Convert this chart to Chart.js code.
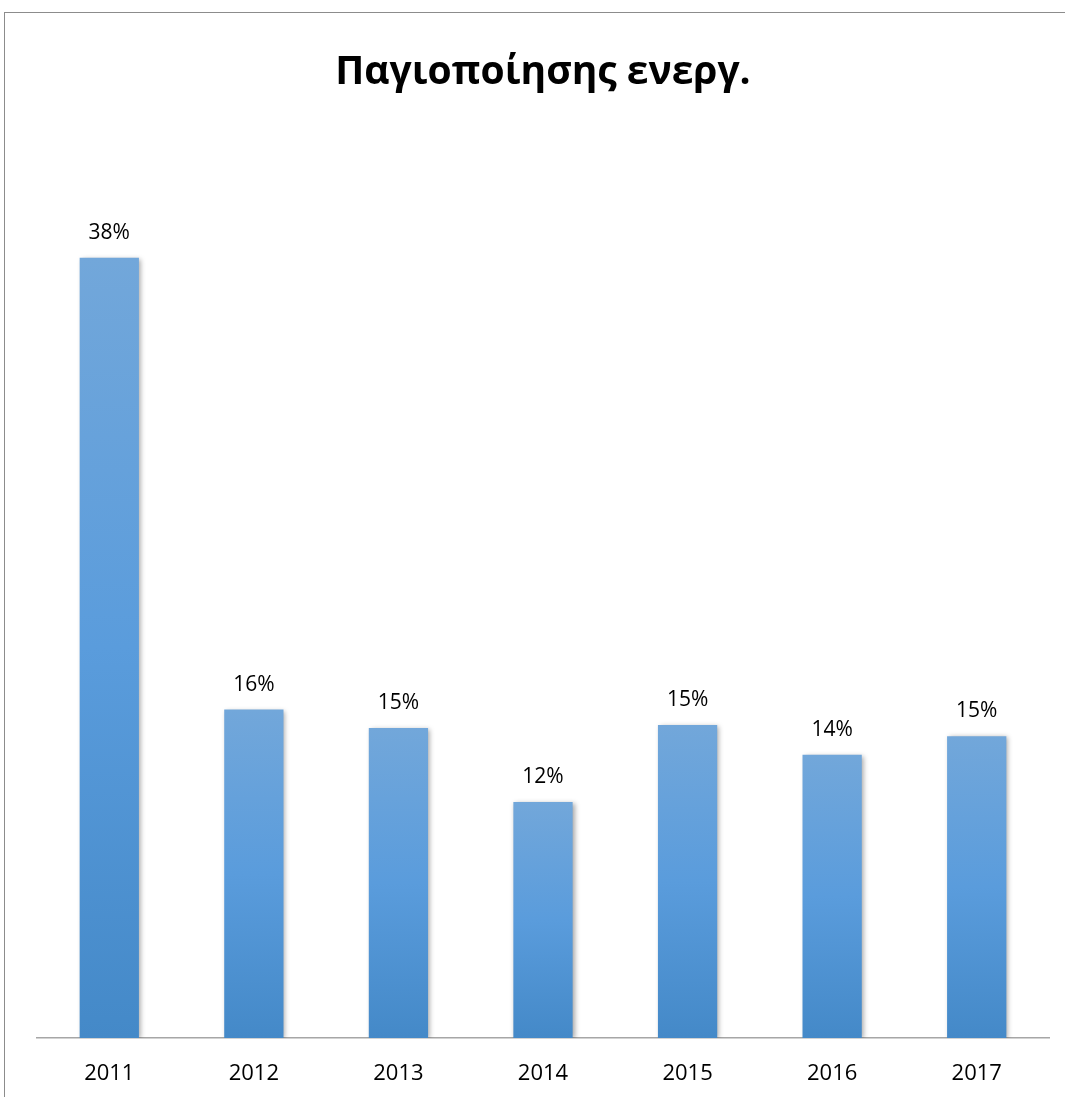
<!DOCTYPE html>
<html>
<head>
<meta charset="utf-8">
<script src="https://cdn.jsdelivr.net/npm/chart.js@4"></script>
<style>
  html, body { margin: 0; padding: 0; background: #fff; overflow: hidden; }
  .frame { position: absolute; left: 4px; top: 12px; width: 1200px; height: 1200px; border: 1px solid #8c8c8c; box-sizing: border-box; }
  .wrap { position: absolute; left: 0; top: 0; width: 1065px; height: 1097px; }
</style>
</head>
<body>
<div class="frame"></div>
<div class="wrap"><canvas id="c"></canvas></div>
<script>
const YEARS = ['2011', '2012', '2013', '2014', '2015', '2016', '2017'];
const VALUES = [38.0, 16.0, 15.1, 11.5, 15.25, 13.8, 14.7];

// per-bar gradient, lighter on top, darker at the bottom
function barFill(ctx) {
  const chart = ctx.chart;
  const y = chart.scales.y;
  if (!chart.chartArea || !y) return '#5b9bd5';
  const top = y.getPixelForValue(ctx.raw);
  const base = y.getPixelForValue(0);
  if (!isFinite(top) || !isFinite(base) || top === base) return '#5b9bd5';
  const g = chart.ctx.createLinearGradient(0, top, 0, base);
  g.addColorStop(0, '#72a7da');
  g.addColorStop(0.5, '#5a9cdc');
  g.addColorStop(1, '#4489c8');
  return g;
}

const shadowAndLabels = {
  id: 'shadowAndLabels',
  beforeDatasetsDraw(chart) {
    const c = chart.ctx;
    c.save();
    c.shadowColor = 'rgba(0,0,0,0.35)';
    c.shadowBlur = 5;
    c.shadowOffsetX = 2;
    c.shadowOffsetY = 1;
  },
  afterDatasetsDraw(chart) {
    const c = chart.ctx;
    c.restore();
    c.save();
    c.font = '21px "Open Sans", "Liberation Sans", sans-serif';
    c.fillStyle = '#000';
    c.textAlign = 'center';
    c.textBaseline = 'middle';
    chart.getDatasetMeta(0).data.forEach((bar, i) => {
      c.fillText(Math.round(VALUES[i]) + '%', bar.x, bar.y - 25);
    });
    c.restore();
  }
};

new Chart(document.getElementById('c'), {
  type: 'bar',
  data: {
    labels: YEARS,
    datasets: [{
      data: VALUES,
      backgroundColor: barFill,
      borderWidth: 0,
      barPercentage: 0.41,
      categoryPercentage: 1
    }]
  },
  options: {
    responsive: true,
    maintainAspectRatio: false,
    animation: false,
    layout: { padding: { left: 37, right: 16, top: 0, bottom: 0 } },
    plugins: {
      legend: { display: false },
      tooltip: { enabled: false },
      title: {
        display: true,
        text: 'Παγιοποίησης ενεργ.',
        color: '#000',
        font: { family: '"Open Sans", "Liberation Sans", sans-serif', size: 39, weight: 'bold' },
        padding: { top: 49, bottom: 121 }
      }
    },
    scales: {
      x: {
        grid: { display: false, drawTicks: false },
        border: { display: true, color: '#a6a6a6', width: 1.5 },
        ticks: { color: '#000', padding: 23, font: { family: '"Open Sans", "Liberation Sans", sans-serif', size: 22 } },
        afterFit: s => { s.height = 59; }
      },
      y: { display: false, min: 0, max: 40 }
    }
  },
  plugins: [shadowAndLabels]
});
</script>
</body>
</html>
